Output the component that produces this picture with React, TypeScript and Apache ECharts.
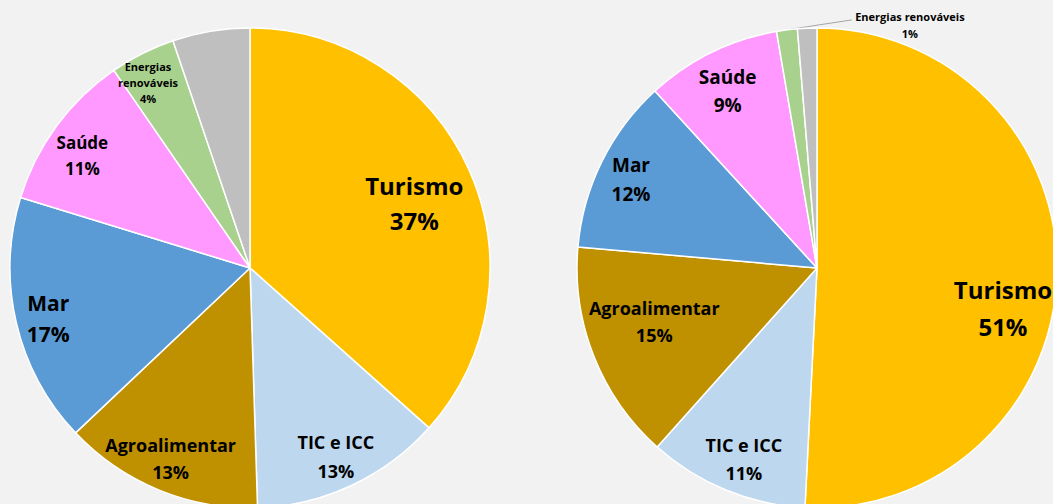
import React, { useEffect, useRef } from 'react';
import * as echarts from 'echarts';

const categories = ['Turismo', 'TIC e ICC', 'Agroalimentar', 'Mar', 'Saúde', 'Energias renováveis', 'Outros'];
const leftValues = [36.6, 12.9, 13.45, 16.8, 10.65, 4.4, 5.2];
const rightValues = [50.8, 10.8, 14.8, 11.8, 9.1, 1.4, 1.3];
const colors = ['#FFC000', '#BDD7EE', '#BF9000', '#5B9BD5', '#FF99FF', '#A9D18E', '#BFBFBF'];

type LS = { size: number; lh: number; off: [number, number]; split?: boolean } | null;

const leftLabelStyles: LS[] = [
  { size: 24, lh: 35, off: [-21, 18] },
  { size: 18, lh: 29, off: [0, 5] },
  { size: 18, lh: 27, off: [-2, 3] },
  { size: 21, lh: 31, off: [-4, 4] },
  { size: 17, lh: 26, off: [-4, 8] },
  { size: 11, lh: 16, off: [-11, -4], split: true },
  null,
];
const rightLabelStyles: LS[] = [
  { size: 24, lh: 37, off: [-17, 35] },
  { size: 18, lh: 28, off: [4, 3] },
  { size: 18, lh: 27, off: [26, -21] },
  { size: 19, lh: 29, off: [-4, 1] },
  { size: 19, lh: 28, off: [0, 5] },
  null,
  null,
];
const OUTSIDE_INDEX = 5;
const FONT = 'Open Sans';

function pct(p: any) {
  return Math.round(p.percent) + '%';
}

function buildSeries(values: number[], center: [number, number], styles: LS[], outsideIdx: number | null) {
  const main: any = {
    type: 'pie',
    radius: [0, 240],
    center,
    startAngle: 90,
    clockwise: true,
    silent: true,
    avoidLabelOverlap: false,
    label: { show: false },
    labelLine: { show: false },
    itemStyle: { borderColor: '#ffffff', borderWidth: 1.5 },
    data: categories.map((n, i) => {
      const d: any = { name: n, value: values[i], itemStyle: { color: colors[i] } };
      if (outsideIdx === i) {
        d.label = {
          show: true,
          position: 'outside',
          fontFamily: FONT,
          fontWeight: 'bold',
          fontSize: 11,
          lineHeight: 17,
          color: '#000',
          align: 'center',
          formatter: (p: any) => `${p.name}\n${pct(p)}`,
        };
        d.labelLine = { show: true, length: 10, length2: 40, lineStyle: { color: '#A6A6A6', width: 1 } };
      }
      return d;
    }),
  };
  if (outsideIdx !== null) {
    main.labelLayout = (params: any) => {
      if (params.dataIndex !== outsideIdx) return {};
      const pts = params.labelLinePoints;
      if (!pts || !pts[0]) return {};
      const p0 = pts[0];
      return {
        x: p0[0] + 123,
        y: p0[1] - 5,
        align: 'center',
        verticalAlign: 'middle',
        labelLinePoints: [
          [p0[0], p0[1]],
          [p0[0] + 32, p0[1] - 5],
          [p0[0] + 65, p0[1] - 10],
        ],
      };
    };
  }
  const overlay: any = {
    type: 'pie',
    radius: [160, 240],
    center,
    startAngle: 90,
    clockwise: true,
    silent: true,
    avoidLabelOverlap: false,
    itemStyle: { color: 'transparent', borderWidth: 0 },
    label: { show: false },
    labelLine: { show: false },
    data: categories.map((n, i) => {
      const s = styles[i];
      return {
        name: n,
        value: values[i],
        label: s
          ? {
              show: true,
              position: 'inside',
              fontFamily: FONT,
              fontWeight: 'bold',
              color: '#000',
              fontSize: s.size,
              lineHeight: s.lh,
              offset: s.off,
              align: 'center',
              formatter: (p: any) => `${s.split ? p.name.replace(' ', '\n') : p.name}\n${pct(p)}`,
            }
          : { show: false },
      };
    }),
  };
  return [main, overlay];
}

export default function App() {
  const ref = useRef<HTMLDivElement>(null);
  useEffect(() => {
    document.body.style.margin = '0';
    if (!ref.current) return;
    const chart = echarts.init(ref.current, undefined, { renderer: 'svg' });
    chart.setOption({
      animation: false,
      backgroundColor: '#F2F2F2',
      series: [
        ...buildSeries(leftValues, [250, 268], leftLabelStyles, null),
        ...buildSeries(rightValues, [817, 268], rightLabelStyles, OUTSIDE_INDEX),
      ],
    });
    return () => chart.dispose();
  }, []);
  return <div ref={ref} style={{ width: 1053, height: 504 }} />;
}
